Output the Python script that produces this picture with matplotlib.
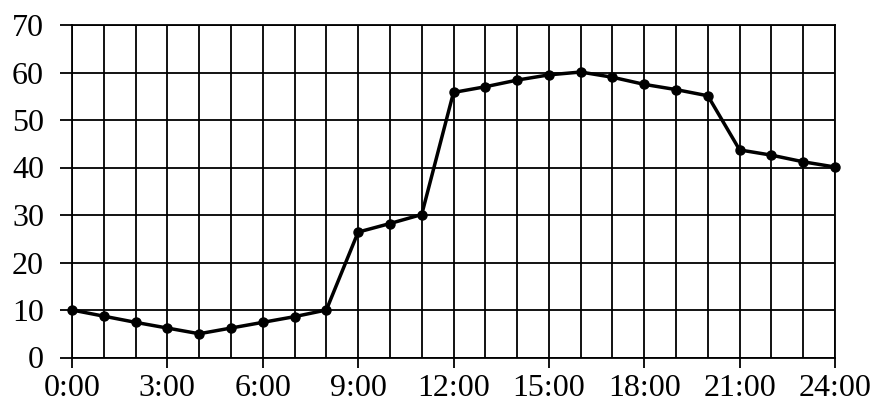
import matplotlib.pyplot as plt
from matplotlib.ticker import MultipleLocator

# hourly values
hours = list(range(25))
values = [10, 8.7, 7.4, 6.2, 5, 6.2, 7.4, 8.6, 10,
          26.4, 28.2, 30.1, 55.8, 57, 58.4, 59.5, 60.1,
          59, 57.5, 56.4, 55.1, 43.7, 42.6, 41.2, 40.1]
xtick_pos = list(range(0, 25, 3))
xtick_labels = [f'{h}:00' for h in xtick_pos]
ytick_pos = list(range(0, 71, 10))

plt.rcParams['font.family'] = ['Liberation Serif', 'DejaVu Serif']

fig = plt.figure(figsize=(8.91, 4.05), dpi=100)
ax = fig.add_axes([72/891, 1-357.5/405, (835-72)/891, (357.5-25)/405])

ax.set_xlim(0, 24)
ax.set_ylim(0, 70)
ax.set_xticks(xtick_pos)
ax.set_xticklabels(xtick_labels)
ax.set_yticks(ytick_pos)
ax.xaxis.set_minor_locator(MultipleLocator(1))

ax.grid(True, which='both', axis='x', color='black', linewidth=1.3)
ax.grid(True, which='major', axis='y', color='black', linewidth=1.3)
for s in ax.spines.values():
    s.set_linewidth(1.3)

ax.tick_params(axis='both', which='major', labelsize=23, width=1.3, color='black')
ax.tick_params(axis='y', length=8.6, pad=11.5)
ax.tick_params(axis='x', length=7.2, pad=4.5)
ax.tick_params(axis='x', which='minor', length=0)

ax.plot(hours, values, '-o', color='black', linewidth=2.5, markersize=6.5, clip_on=False, zorder=5)

plt.savefig('out.png', dpi=100)
